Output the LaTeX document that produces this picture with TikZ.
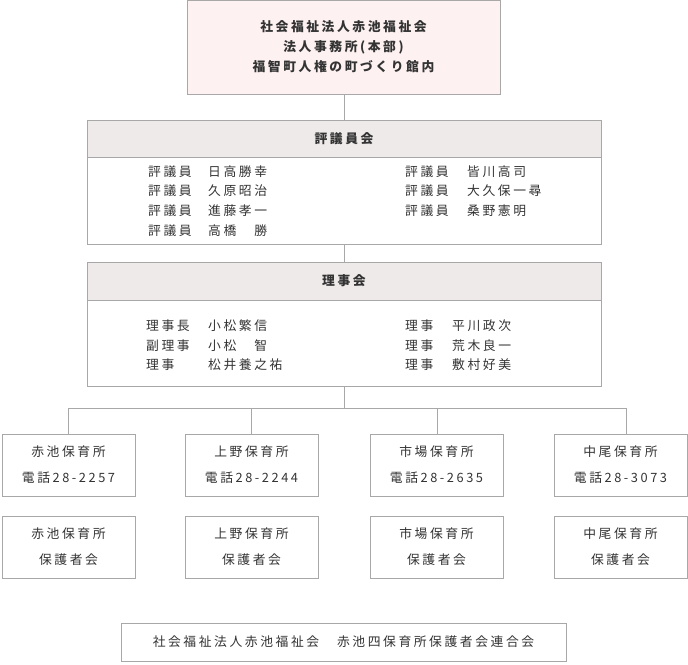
\documentclass[tikz,border=0pt]{standalone}
\usepackage{fontspec}
\setmainfont{Noto Sans CJK JP}
\newfontfamily\jp[LetterSpace=20]{Noto Sans CJK JP}
\definecolor{bd}{HTML}{A8A8A8}
\definecolor{pinkf}{HTML}{FDF1F1}
\definecolor{hdr}{HTML}{EEEAE9}
\definecolor{tx}{HTML}{333333}
\begin{document}
\begin{tikzpicture}[x=1pt,y=-1pt,
  box/.style={draw=bd,line width=0.8pt},
  ln/.style={draw=bd,line width=0.8pt},
  t/.style={font=\jp\fontsize{12.8}{14}\selectfont,text=tx,inner sep=0pt},
  tb/.style={font=\jp\bfseries\fontsize{12.8}{14}\selectfont,text=tx,inner sep=0pt,align=center},
  l/.style={t,anchor=west}]
\useasboundingbox (0,0) rectangle (688,664);
% top
\draw[box,fill=pinkf] (187,0.5) rectangle (500,94);
\node[tb,font=\jp\bfseries\fontsize{12.8}{20}\selectfont] (top) at (343.5,47) {社会福祉法人赤池福祉会\\法人事務所(本部)\\福智町人権の町づくり館内};
% council
\draw[box,fill=hdr] (87,120) rectangle (601,157);
\draw[box] (87,157) rectangle (601,244);
\node[tb] (c) at (344,139) {評議員会};
\coordinate (cT) at (344,120);
\coordinate (cB) at (344,244);
\draw[ln] (344,94) -- (cT);
\foreach \y/\n [count=\i] in {172/日高勝幸,191/久原昭治,211/進藤孝一,231/高橋　勝}{
  \node[l] (cr\i) at (148,\y) {評議員};
  \node[l] (cn\i) at (208,\y) {\n};}
\foreach \y/\n [count=\i] in {172/皆川高司,191/大久保一尋,211/桑野憲明}{
  \node[l] (dr\i) at (405,\y) {評議員};
  \node[l] (dn\i) at (467,\y) {\n};}
% board
\draw[box,fill=hdr] (87,262) rectangle (601,300);
\draw[box] (87,300) rectangle (601,386);
\node[tb] (b) at (344,281) {理事会};
\draw[ln] (cB) -- (344,262);
\node[l] at (146,326) {理事長}; \node[l] at (208,326) {小松繁信};
\node[l] at (146,346) {副理事}; \node[l] at (208,346) {小松　智};
\node[l] at (146,365) {理事};   \node[l] at (208,365) {松井養之祐};
\node[l] at (405,326) {理事}; \node[l] at (452,326) {平川政次};
\node[l] at (405,346) {理事}; \node[l] at (452,346) {荒木良一};
\node[l] at (405,365) {理事}; \node[l] at (452,365) {敷村好美};
% branches
\draw[ln] (344,386) -- (344,408);
\draw[ln] (68,408) -- (626,408);
\foreach \x/\n/\p/\v [count=\i] in {2/赤池/28-2257/68,185/上野/28-2244/251,370/市場/28-2635/437,554/中尾/28-3073/626}{
  \draw[ln] (\v,408) -- (\v,434);
  \draw[box] (\x,434) rectangle (\x+133,496);
  \node[t,align=center,font=\jp\fontsize{12.8}{26}\selectfont] (n\i) at (\x+66.5,465) {\n 保育所\\電話\p};
  \draw[box] (\x,516) rectangle (\x+133,578);
  \node[t,align=center,font=\jp\fontsize{12.8}{26}\selectfont] (p\i) at (\x+66.5,547) {\n 保育所\\保護者会};
}
\draw[box] (121,623) rectangle (566,661);
\node[t] (all) at (343.5,642) {社会福祉法人赤池福祉会　赤池四保育所保護者会連合会};
\end{tikzpicture}
\end{document}
